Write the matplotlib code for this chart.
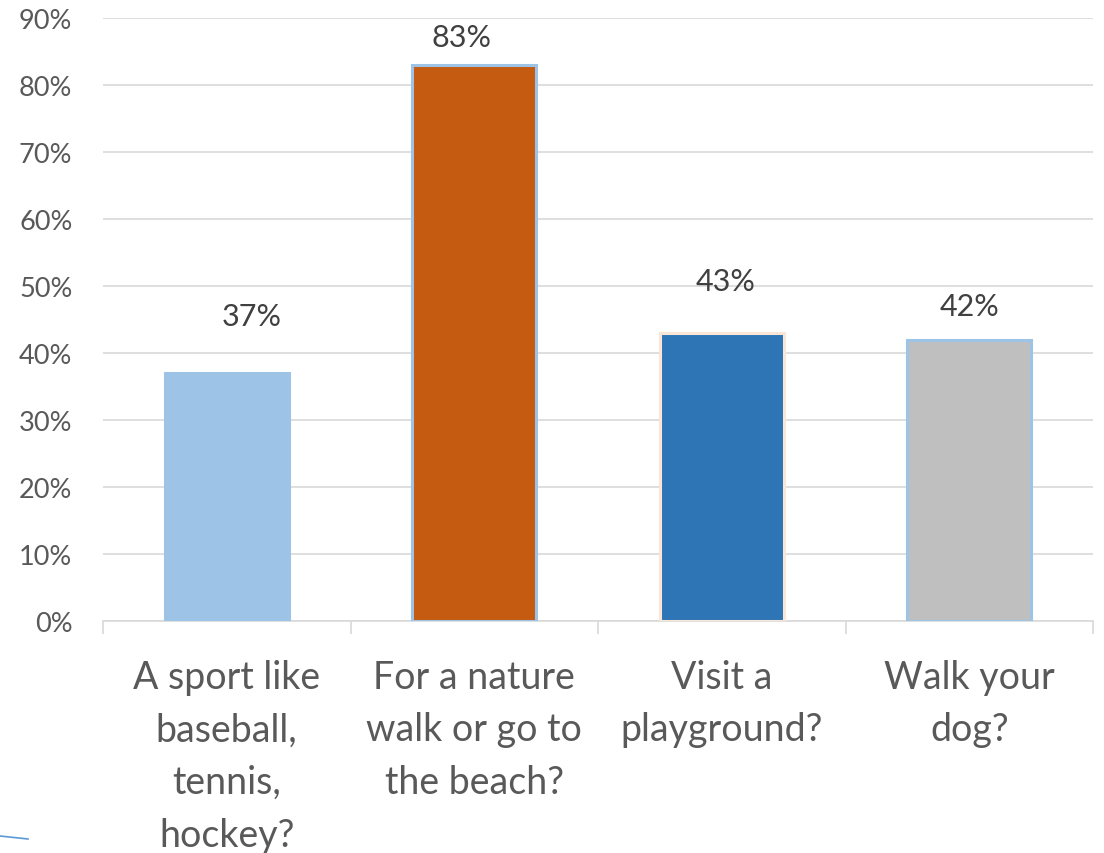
import matplotlib.pyplot as plt
from matplotlib.lines import Line2D

plt.rcParams['font.family'] = ['Lato', 'DejaVu Sans']

categories = ['A sport like\nbaseball,\ntennis,\nhockey?',
              'For a nature\nwalk or go to\nthe beach?',
              'Visit a\nplayground?',
              'Walk your\ndog?']
values = [37, 83, 43, 42]
value_labels = ['37%', '83%', '43%', '42%']
yticks = [0, 10, 20, 30, 40, 50, 60, 70, 80, 90]

fills = ['#9DC3E6', '#C55A11', '#2E75B6', '#BFBFBF']
edges = ['#9DC3E6', '#9DC3E6', '#FBE5D6', '#9DC3E6']
# labels were dragged by hand in the original, offsets in points
label_dx = [18, -9, 3, 0]
label_dy = [31, 10, 27, 14]

fig = plt.figure(figsize=(11.04, 8.54), dpi=100)
ax = fig.add_axes([103 / 1104, 1 - 622 / 854, 990 / 1104, 603 / 854])

x = range(len(values))
ax.bar(x, values, width=0.5, color=fills, edgecolor=edges, linewidth=2.2, zorder=3)

for i, v in enumerate(values):
    ax.annotate(value_labels[i], (i, v), xytext=(label_dx[i], label_dy[i]),
                textcoords='offset points', ha='center', va='bottom',
                fontsize=22, color='#404040')

ax.set_xlim(-0.5, 3.5)
ax.set_ylim(0, 90)
ax.set_yticks(yticks)
ax.set_yticklabels([f'{t}%' for t in yticks], fontsize=19.5, color='#595959')
ax.tick_params(axis='y', length=0, pad=22)
ax.grid(axis='y', color='#D9D9D9', linewidth=1.2, zorder=0)

ax.set_xticks([-0.5, 0.5, 1.5, 2.5, 3.5])
ax.set_xticklabels([])
ax.tick_params(axis='x', length=9, width=1.2, color='#D9D9D9')

for s in ['top', 'right', 'left']:
    ax.spines[s].set_visible(False)
ax.spines['bottom'].set_color('#D9D9D9')
ax.spines['bottom'].set_linewidth(1.2)

for i, c in enumerate(categories):
    ax.text(i, -5.6, c, ha='center', va='top', fontsize=27, color='#595959',
            linespacing=1.58)

fig.add_artist(Line2D([0, 28 / 1104], [1 - 837 / 854, 1 - 840 / 854],
                      color='#5B9BD5', linewidth=1.2))

fig.savefig('out.png', dpi=100)
